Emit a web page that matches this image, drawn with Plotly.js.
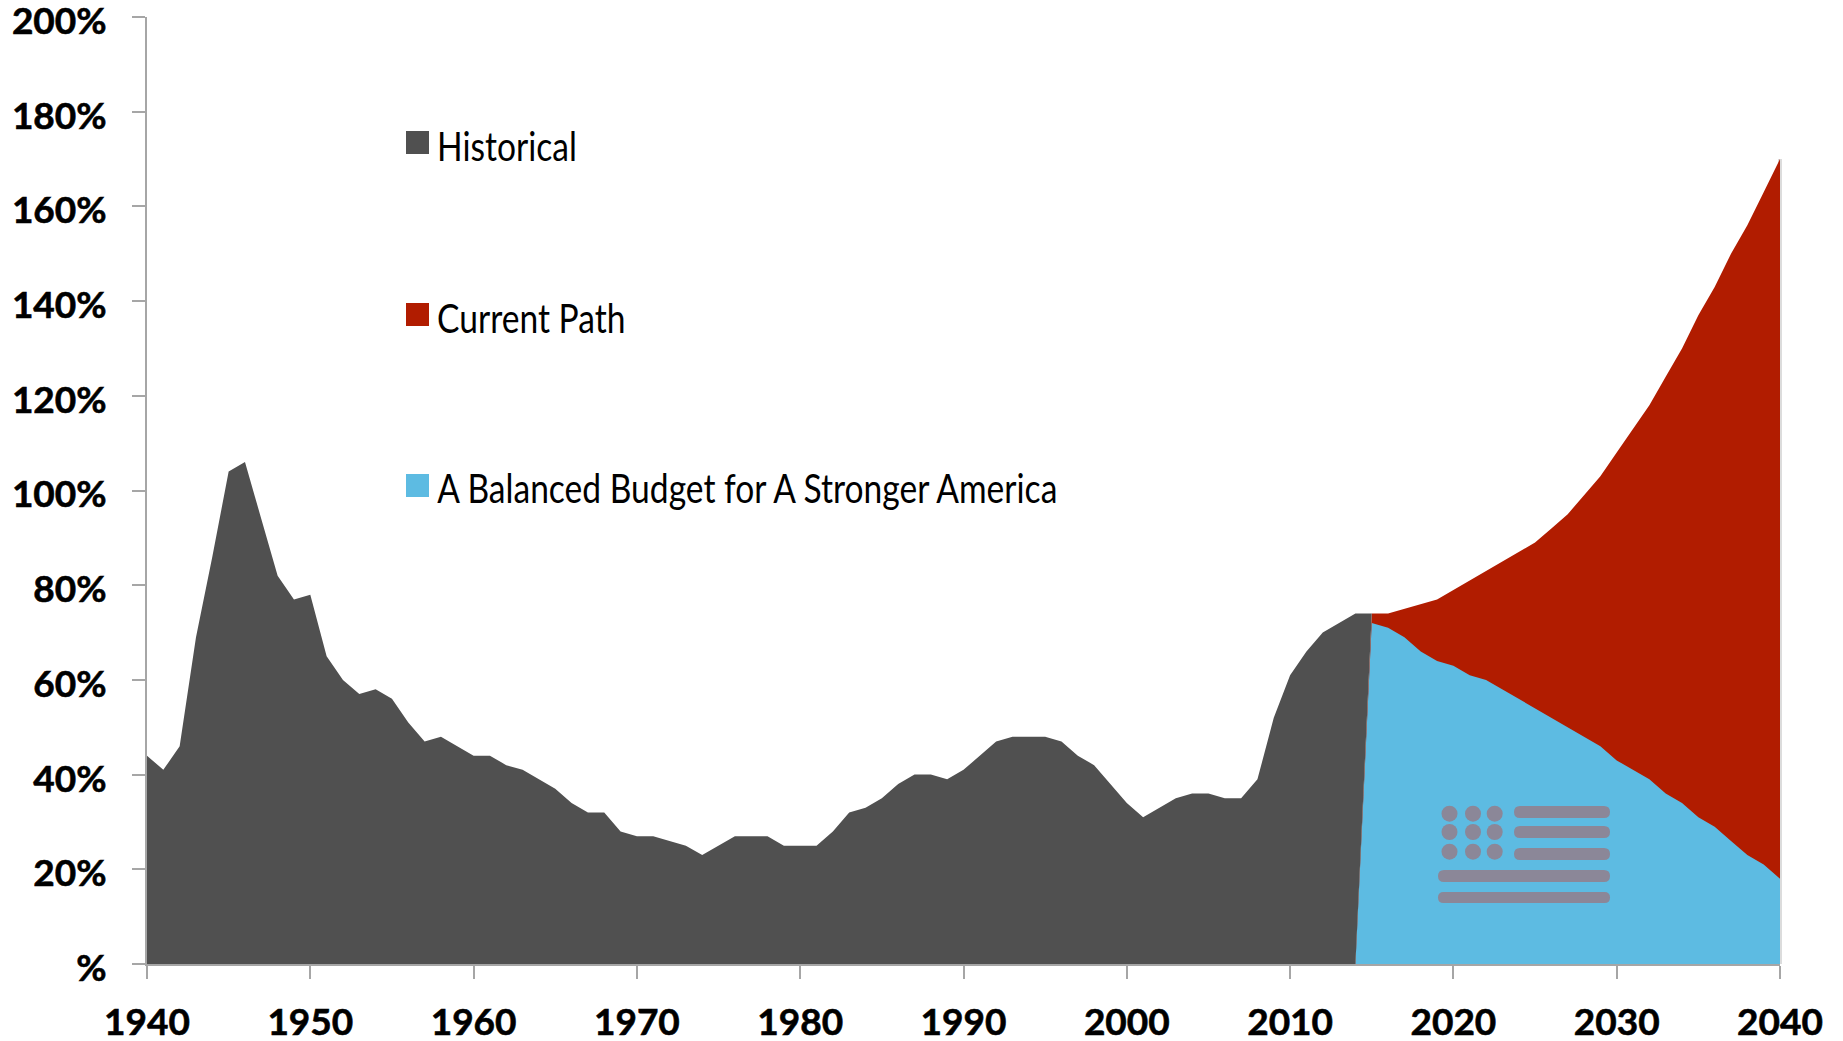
<!DOCTYPE html>
<html><head><meta charset="utf-8">
<script src="https://cdn.plot.ly/plotly-3.0.1.min.js"></script>
<style>html,body{margin:0;padding:0;background:#fff}#c{width:1843px;height:1041px}
.yaxislayer-above g.ytick{transform:translateY(4px)}
.xaxislayer-above g.xtick text,.yaxislayer-above g.ytick text{stroke:#000;stroke-width:.6px}
.annotation-text-g text{transform-box:fill-box;transform-origin:left center;transform:scaleX(.84)}
</style>
</head><body><div id="c"></div>
<script>
const histYears=[1940,1941,1942,1943,1944,1945,1946,1947,1948,1949,1950,1951,1952,1953,1954,1955,1956,1957,1958,1959,1960,1961,1962,1963,1964,1965,1966,1967,1968,1969,1970,1971,1972,1973,1974,1975,1976,1977,1978,1979,1980,1981,1982,1983,1984,1985,1986,1987,1988,1989,1990,1991,1992,1993,1994,1995,1996,1997,1998,1999,2000,2001,2002,2003,2004,2005,2006,2007,2008,2009,2010,2011,2012,2013,2014,2015];
const histValues=[44,41,46,69,86,104,106,94,82,77,78,65,60,57,58,56,51,47,48,46,44,44,42,41,39,37,34,32,32,28,27,27,26,25,23,25,27,27,27,25,25,25,28,32,33,35,38,40,40,39,41,44,47,48,48,48,47,44,42,38,34,31,33,35,36,36,35,35,39,52,61,66,70,72,74,74];
const projYears=[2015,2016,2017,2018,2019,2020,2021,2022,2023,2024,2025,2026,2027,2028,2029,2030,2031,2032,2033,2034,2035,2036,2037,2038,2039,2040];
const currentPath=[74,74,75,76,77,79,81,83,85,87,89,92,95,99,103,108,113,118,124,130,137,143,150,156,163,170];
const balanced=[72,71,69,66,64,63,61,60,58,56,54,52,50,48,46,43,41,39,36,34,31,29,26,23,21,18];
const seriesNames=['Historical','Current Path','A Balanced Budget for A Stronger America'];
const seriesColors=['#505050','#b11c00','#5dbbe2'];
const yTickVals=[0,20,40,60,80,100,120,140,160,180,200];
const yTickText=['%','20%','40%','60%','80%','100%','120%','140%','160%','180%','200%'];
const xTickVals=[1940,1950,1960,1970,1980,1990,2000,2010,2020,2030,2040];

const W=1843,H=1041,L=147,R=1780,T=17,B=964;
const startYear=2014, endYear=2040;
const area=(x,y,c,n)=>({type:'scatter',mode:'lines',x,y,fill:'toself',fillcolor:c,line:{color:c,width:0},name:n,hoverinfo:'name',showlegend:false});
const traces=[
 area([startYear].concat(projYears,[endYear]),[0].concat(currentPath,[0]),seriesColors[1],seriesNames[1]),
 area([startYear].concat(projYears,[endYear]),[0].concat(balanced,[0]),seriesColors[2],seriesNames[2]),
 area([histYears[0]].concat(histYears,[startYear]),[0].concat(histValues,[0]),seriesColors[0],seriesNames[0])
];
const px=x=>(x-L)/(R-L), py=y=>(B-y)/(B-T);
const shapes=[],annotations=[];
const flag='#8b8798';
function rrect(x0,y0,x1,y1){const r=(y1-y0)/2;const P=(a,b)=>px(a)+','+py(b);
 return {type:'path',xref:'paper',yref:'paper',line:{width:0},fillcolor:flag,layer:'above',
  path:`M${P(x0+r,y0)} L${P(x1-r,y0)} Q${P(x1,y0)} ${P(x1,y0+r)} Q${P(x1,y1)} ${P(x1-r,y1)} L${P(x0+r,y1)} Q${P(x0,y1)} ${P(x0,y0+r)} Q${P(x0,y0)} ${P(x0+r,y0)} Z`};}
[813.7,832,851.7].forEach(cy=>[1449.5,1473,1494.7].forEach(cx=>{
 shapes.push({type:'circle',xref:'paper',yref:'paper',x0:px(cx-8),x1:px(cx+8),y0:py(cy+8),y1:py(cy-8),fillcolor:flag,line:{width:0},layer:'above'});}));
[[806,818],[826,838],[848,860]].forEach(b=>shapes.push(rrect(1514,b[0],1610,b[1])));
[[870,882],[892,903]].forEach(b=>shapes.push(rrect(1438,b[0],1610,b[1])));
const legendY=[142.5,314.5,485.5];
seriesNames.forEach((n,i)=>{
 shapes.push({type:'rect',xref:'paper',yref:'paper',x0:px(406),x1:px(429),y0:py(legendY[i]+11.5),y1:py(legendY[i]-11.5),fillcolor:seriesColors[i],line:{width:0}});
 annotations.push({xref:'paper',yref:'paper',x:px(436),y:py(legendY[i]+3),xanchor:'left',yanchor:'middle',text:n,showarrow:false,borderpad:0,
  font:{family:'Lato,"Open Sans",sans-serif',size:40,color:'#000'}});
});
shapes.push({type:'line',xref:'paper',yref:'y',x0:1,x1:1,y0:0,y1:170,line:{color:'#dcdcdc',width:4},layer:'below'});
const tickFont={family:'Lato,sans-serif',size:37,color:'#000',weight:700};
const layout={width:W,height:H,showlegend:false,paper_bgcolor:'#fff',plot_bgcolor:'#fff',
 margin:{l:L,r:W-R,t:T,b:H-B,pad:0},shapes,annotations,
 xaxis:{type:'linear',range:[1940,2040],tickmode:'array',tickvals:xTickVals,ticktext:xTickVals.map(String),ticks:'outside',ticklen:13,tickwidth:2,tickcolor:'#a6a6a6',showline:true,linecolor:'#a6a6a6',linewidth:2,showgrid:false,zeroline:false,tickfont:tickFont,ticklabelstandoff:12,ticklabeloverflow:'allow'},
 yaxis:{range:[0,200],tickmode:'array',tickvals:yTickVals,ticktext:yTickText,ticks:'outside',ticklen:13,tickwidth:2,tickcolor:'#a6a6a6',showline:true,linecolor:'#a6a6a6',linewidth:2,showgrid:false,zeroline:false,tickfont:tickFont,ticklabelstandoff:18,ticklabeloverflow:'allow'}
};
Plotly.newPlot('c',traces,layout,{displayModeBar:false,responsive:false});
</script></body></html>
